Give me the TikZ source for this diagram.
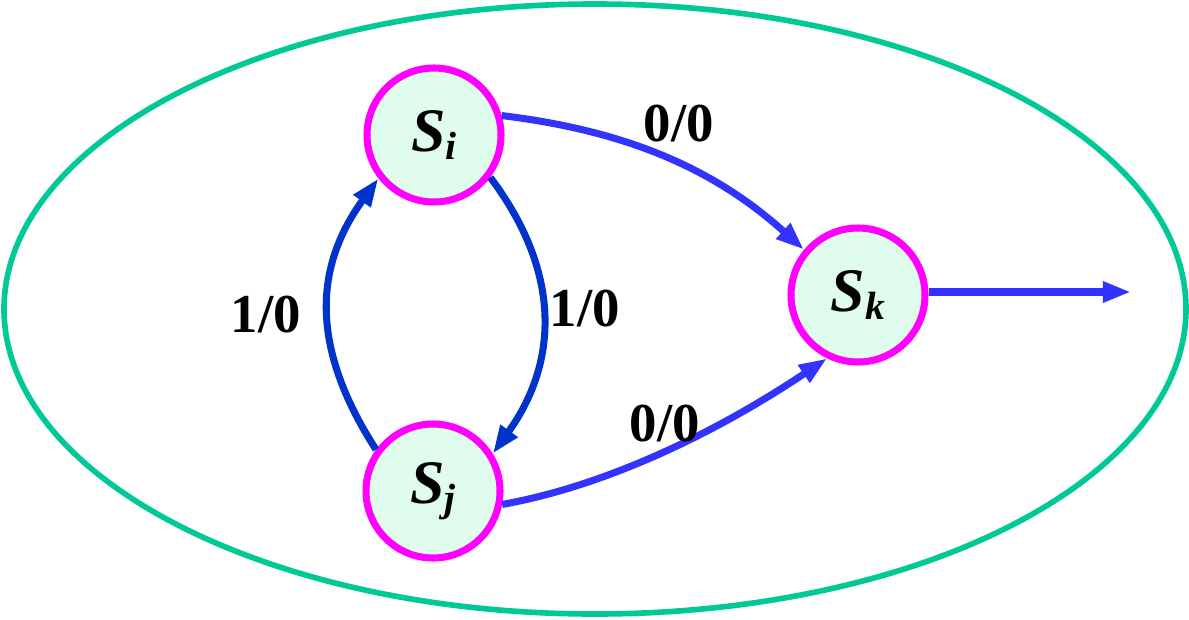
\documentclass[tikz,border=0pt]{standalone}
\usepackage{fontspec}
\setmainfont{Liberation Serif}
\usetikzlibrary{arrows.meta}
\definecolor{ellgreen}{RGB}{0,200,150}
\definecolor{stmag}{RGB}{255,0,255}
\definecolor{stfill}{RGB}{224,252,236}
\definecolor{darkblue}{RGB}{0,51,204}
\definecolor{liteblue}{RGB}{51,51,255}
\tikzset{
  state/.style={circle, draw=stmag, fill=stfill, line width=5pt, minimum size=134*0.025cm, inner sep=0pt},
  trans/.style={line width=5pt, -{Triangle[length=20pt,width=14pt]}},
  lbl/.style={font=\fontsize{39}{39}\selectfont\bfseries, inner sep=0pt},
}
\newcommand{\stname}[1]{\textbf{\textit{\fontsize{44}{44}\selectfont S\raisebox{-6pt}{\fontsize{28}{28}\selectfont #1}}}}
\begin{document}
\begin{tikzpicture}[x=0.025cm,y=-0.025cm]
\useasboundingbox (0,0) rectangle (1189,619);
\draw[ellgreen, line width=4pt] (595,309) ellipse [x radius=591, y radius=305];
\node[state] (Si) at (434,135) {\stname{i}};
\node[state] (Sj) at (433,491) {\stname{j}};
\node[state] (Sk) at (858,295) {\stname{k}};
\coordinate (out) at (1131,292);
\draw[trans, darkblue] (Sj.144) .. controls (312,350) and (312,270) .. (Si.218);
\draw[trans, darkblue] (Si.323) .. controls (560,270) and (560,360) .. (Sj.32);
\draw[trans, liteblue] (Si.16) .. controls (620,130) and (710,165) .. (Sk.140);
\draw[trans, liteblue] (Sj.-11) .. controls (610,485) and (720,430) .. (Sk.244);
\draw[trans, liteblue] (Sk.east |- out) -- (out);
\node[lbl] (l1) at (266,315) {1/0};
\node[lbl] (l2) at (585,309) {1/0};
\node[lbl] (l3) at (679,124) {0/0};
\node[lbl] (l4) at (665,424) {0/0};
\end{tikzpicture}
\end{document}
